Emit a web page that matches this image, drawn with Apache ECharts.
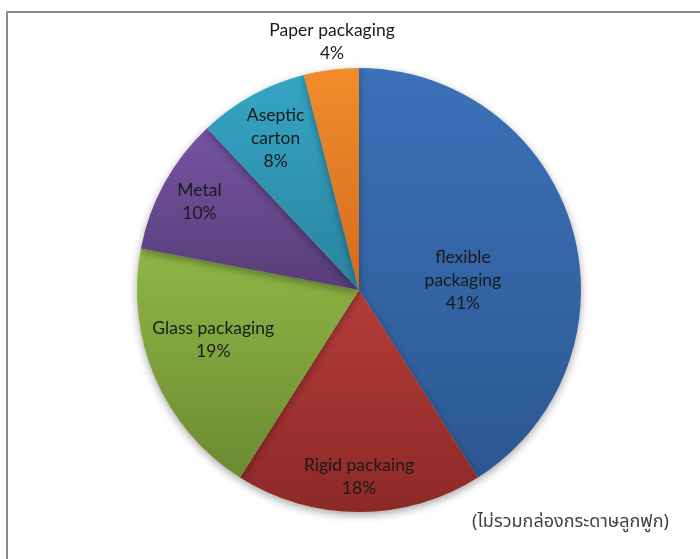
<!DOCTYPE html>
<html>
<head>
<meta charset="utf-8">
<script src="https://cdn.jsdelivr.net/npm/echarts@6/dist/echarts.min.js"></script>
<style>
html,body{margin:0;padding:0;background:#fff;}
#c{width:700px;height:559px;}
</style>
</head>
<body>
<div id="c"></div>
<script>
// ---- data ----
const categories = ['flexible\npackaging', 'Rigid packaing', 'Glass packaging', 'Metal', 'Aseptic\ncarton', 'Paper packaging'];
const values = [41, 18, 19, 10, 8, 4];
const note = '(ไม่รวมกล่องกระดาษลูกฟูก)';

// ---- styles ----
const topColors = ['#3b71b9', '#b53c39', '#8fb746', '#7654a2', '#35a5c4', '#f28c2c'];
const bottomColors = ['#2c5891', '#8c2927', '#6c8b32', '#573d78', '#2984a0', '#d26c1e'];
// label radial factor and angle nudge (deg)
const labelRadius = [0.47, 0.84, 0.694, 0.82, 0.78, 1.125];
const labelAngleNudge = [11, 0, 4.5, 0, 0, 1];

const CX = 359, CY = 290, R = 222;
const total = values.reduce((a, b) => a + b, 0);
const mids = [];
let acc = 0;
values.forEach(v => { mids.push((acc + v / 2) / total * 360); acc += v; });

const chart = echarts.init(document.getElementById('c'), null, {renderer: 'canvas'});
chart.setOption({
  animation: false,
  backgroundColor: '#ffffff',
  graphic: [
    {type: 'rect', shape: {x: 7, y: 12, width: 800, height: 700},
     style: {fill: 'none', stroke: '#8a8a8a', lineWidth: 2}, z: 0},
    {type: 'text', left: 472, top: 514,
     style: {text: note, fontSize: 18, fill: '#404040',
             fontFamily: 'Tahoma, "Noto Sans Thai", "DejaVu Sans", sans-serif'}}
  ],
  series: [{
    type: 'pie',
    center: [CX, CY],
    radius: R,
    startAngle: 90,
    clockwise: true,
    avoidLabelOverlap: false,
    itemStyle: {shadowBlur: 8, shadowColor: 'rgba(0,0,0,0.35)', shadowOffsetY: 3, borderWidth: 0},
    label: {
      show: true, position: 'inside',
      formatter: p => p.name + '\n' + p.value + '%',
      fontFamily: 'Lato, "Open Sans", sans-serif', fontSize: 17.5, lineHeight: 23,
      color: '#1a1a1a', align: 'center'
    },
    labelLine: {show: false},
    labelLayout: function (p) {
      const i = p.dataIndex;
      const a = (mids[i] + labelAngleNudge[i]) * Math.PI / 180;
      const d = labelRadius[i] * R;
      return {x: CX + Math.sin(a) * d, y: CY - Math.cos(a) * d, align: 'center', verticalAlign: 'middle'};
    },
    data: categories.map((c, i) => ({
      name: c, value: values[i],
      itemStyle: {color: new echarts.graphic.LinearGradient(0, 0, 0, 1, [
        {offset: 0, color: topColors[i]}, {offset: 1, color: bottomColors[i]}])}
    }))
  }]
});
</script>
</body>
</html>
